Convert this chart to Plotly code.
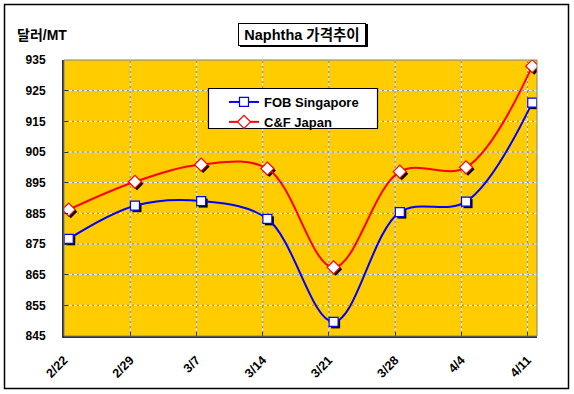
import plotly.graph_objects as go

# ---- data ----
categories = ["2/22", "2/29", "3/7", "3/14", "3/21", "3/28", "4/4", "4/11"]
fob_singapore = [876.7, 887.5, 889.0, 883.2, 849.6, 885.4, 888.8, 921.1]
cf_japan = [886.2, 895.3, 900.9, 899.6, 867.4, 898.6, 900.0, 933.0]
y_ticks = [845, 855, 865, 875, 885, 895, 905, 915, 925, 935]
series_names = ["FOB Singapore", "C&F Japan"]

# ---- geometry ----
W, H = 574, 394
L, R, T, B = 64, 537, 60, 336
PW, PH = R - L, B - T
DAYS = 7
tick_x = [i * DAYS for i in range(len(categories))]
pt_x = [t + 0.5 for t in tick_x]
x_range = [0, tick_x[-1] + 1]
y_range = [y_ticks[0], y_ticks[-1]]
px_per_x = PW / (x_range[1] - x_range[0])
px_per_y = PH / (y_range[1] - y_range[0])


def px(xp):
    return (xp - L) / PW


def py(yp):
    return (B - yp) / PH


FONT = "Liberation Sans, Arial, Noto Sans CJK KR, sans-serif"

fig = go.Figure()

styles = [
    dict(color="#0000FF", symbol="square", size=9),
    dict(color="#FF0000", symbol="diamond", size=10),
]
series = [fob_singapore, cf_japan]

# marker shadows
sx = 2 / px_per_x
sy = 2 / px_per_y
for vals, st in zip(series, styles):
    fig.add_trace(go.Scatter(
        x=[v + sx for v in pt_x], y=[v - sy for v in vals], mode="markers",
        marker=dict(symbol=st["symbol"], size=st["size"], color="black",
                    line=dict(width=0)),
        showlegend=False, hoverinfo="skip"))

for name, vals, st in zip(series_names, series, styles):
    fig.add_trace(go.Scatter(
        x=pt_x, y=vals, name=name, mode="lines+markers",
        line=dict(color=st["color"], width=2, shape="spline", smoothing=1),
        marker=dict(symbol=st["symbol"], size=st["size"], color="white",
                    line=dict(color=st["color"], width=1.2))))

shapes = []
# grid: gray solid under white dashes
for t in tick_x[1:]:
    shapes.append(dict(type="line", xref="x", yref="paper", x0=t, x1=t, y0=0, y1=1,
                       line=dict(color="#8a8a8a", width=1), layer="between"))
    shapes.append(dict(type="line", xref="x", yref="paper", x0=t, x1=t, y0=0, y1=1,
                       line=dict(color="white", width=1, dash="3px,2px"), layer="between"))
for v in y_ticks[1:-1]:
    shapes.append(dict(type="line", xref="paper", yref="y", x0=0, x1=1, y0=v, y1=v,
                       line=dict(color="#8a8a8a", width=1), layer="between"))
    shapes.append(dict(type="line", xref="paper", yref="y", x0=0, x1=1, y0=v, y1=v,
                       line=dict(color="white", width=1, dash="3px,2px"), layer="between"))

# plot area border
shapes.append(dict(type="rect", xref="paper", yref="paper", x0=0, x1=1, y0=0, y1=1,
                   line=dict(color="#808080", width=1), layer="above"))
# outer chart border
shapes.append(dict(type="rect", xref="paper", yref="paper",
                   x0=px(4.5), x1=px(568.5), y0=py(388.5), y1=py(4.5),
                   line=dict(color="black", width=1.5), layer="above"))
# title box shadow
shapes.append(dict(type="rect", xref="paper", yref="paper",
                   x0=px(240), x1=px(368), y0=py(47), y1=py(24),
                   fillcolor="black", line=dict(width=0), layer="above"))
# legend box
shapes.append(dict(type="rect", xref="paper", yref="paper",
                   x0=px(208.5), x1=px(377.5), y0=py(128.5), y1=py(88.5),
                   fillcolor="white", line=dict(color="black", width=1.2), layer="above"))

annotations = [
    dict(text="<b>Naphtha 가격추이</b>", xref="paper", yref="paper",
         x=px(302), y=py(34), xanchor="center", yanchor="middle", showarrow=False,
         font=dict(family=FONT, size=14.5, color="black"),
         bgcolor="white", bordercolor="black", borderwidth=1, borderpad=1,
         width=124, height=19),
    dict(text="<b>달러/MT</b>", xref="paper", yref="paper",
         x=px(15), y=py(35), xanchor="left", yanchor="middle", showarrow=False,
         font=dict(family=FONT, size=14, color="black")),
]

fig.update_layout(
    width=W, height=H,
    margin=dict(l=L, r=W - R, t=T, b=H - B, pad=0, autoexpand=False),
    paper_bgcolor="white", plot_bgcolor="#FFCC00",
    font=dict(family=FONT, color="black"),
    shapes=shapes, annotations=annotations,
    showlegend=True,
    legend=dict(x=px(224), y=py(87), xanchor="left", yanchor="top",
                bgcolor="rgba(0,0,0,0)", borderwidth=0,
                font=dict(family=FONT, size=13, color="black", weight="bold"),
                itemwidth=30, tracegroupgap=0),
    hovermode=False,
)

fig.update_xaxes(
    range=x_range, tickvals=tick_x, ticktext=categories, tickangle=-45,
    showgrid=False, zeroline=False, automargin=False,
    showline=True, linecolor="#303030", linewidth=2,
    ticks="inside", ticklen=4, tickcolor="#303030", tickwidth=1,
    ticklabelstandoff=10,
    tickfont=dict(family=FONT, size=12.5, color="black", weight="bold"),
)
fig.update_yaxes(
    range=y_range, tickvals=y_ticks, showgrid=False, zeroline=False, automargin=False,
    showline=True, linecolor="#303030", linewidth=2,
    ticks="inside", ticklen=4, tickcolor="#303030", tickwidth=1,
    ticklabelstandoff=14,
    tickfont=dict(family=FONT, size=12, color="black", weight="bold"),
)

fig.write_html("out.html", config={"displayModeBar": False},
               post_script="document.body.style.margin='0';document.body.style.overflow='hidden';")
